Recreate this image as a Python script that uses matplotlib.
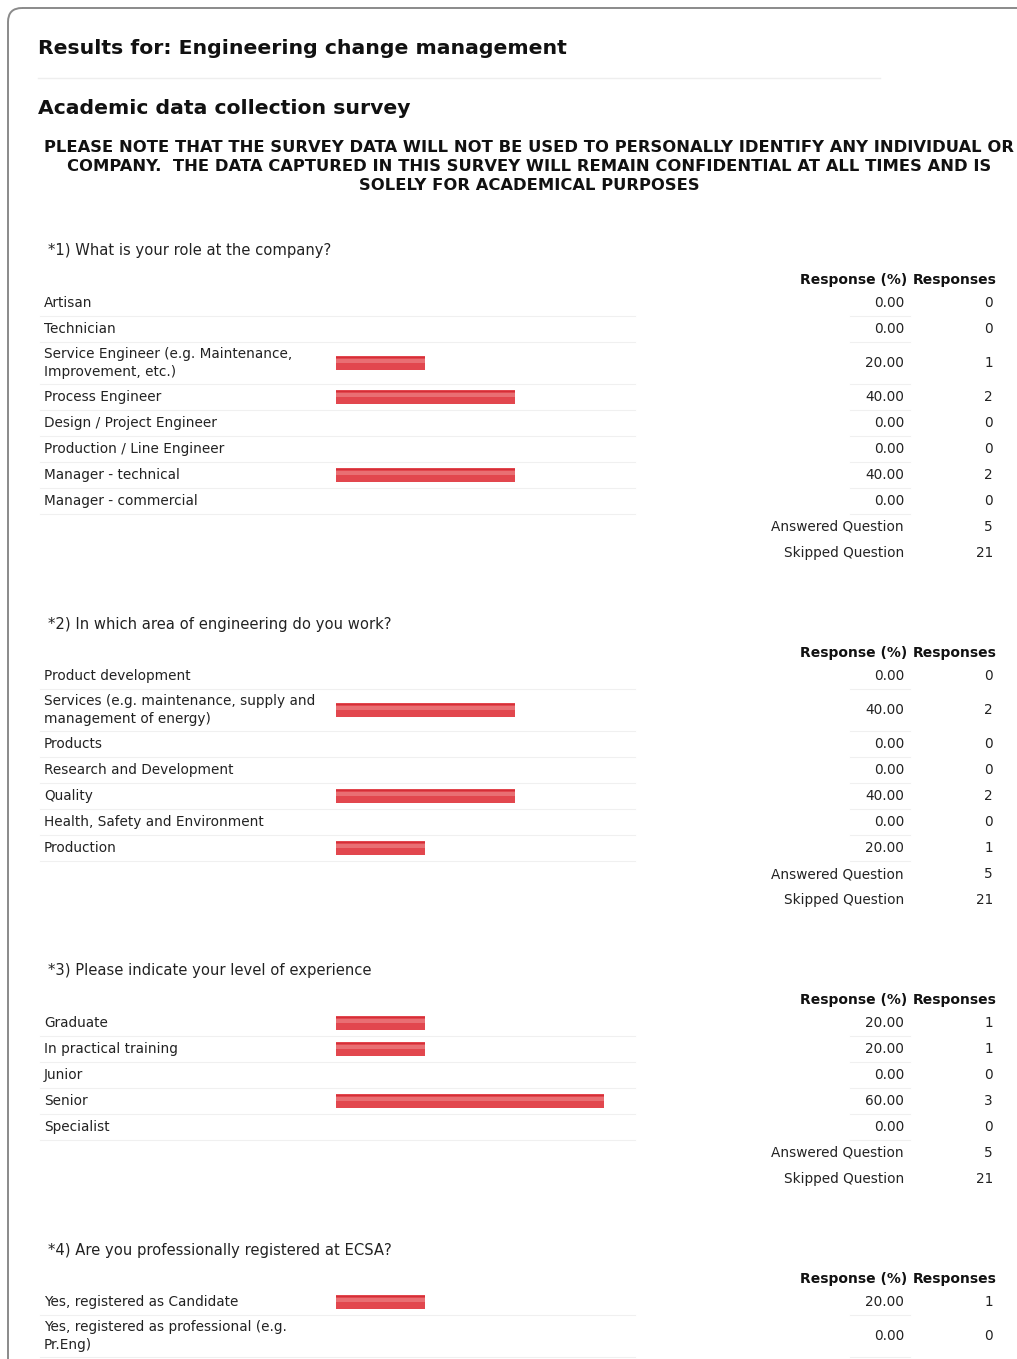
import matplotlib
matplotlib.use("Agg")
import matplotlib.pyplot as plt
from matplotlib.patches import FancyBboxPatch

plt.rcParams['font.family'] = ['DejaVu Sans']

# ---------------- data ----------------
page_title = "Results for: Engineering change management"
survey_title = "Academic data collection survey"
notice_lines = [
    "PLEASE NOTE THAT THE SURVEY DATA WILL NOT BE USED TO PERSONALLY IDENTIFY ANY INDIVIDUAL OR",
    "COMPANY.  THE DATA CAPTURED IN THIS SURVEY WILL REMAIN CONFIDENTIAL AT ALL TIMES AND IS",
    "SOLELY FOR ACADEMICAL PURPOSES",
]

q1_title = "*1) What is your role at the company?"
q1_labels = ["Artisan", "Technician", "Service Engineer (e.g. Maintenance,\nImprovement, etc.)",
             "Process Engineer", "Design / Project Engineer", "Production / Line Engineer",
             "Manager - technical", "Manager - commercial"]
q1_pct = [0.00, 0.00, 20.00, 40.00, 0.00, 0.00, 40.00, 0.00]
q1_cnt = [0, 0, 1, 2, 0, 0, 2, 0]
q1_answered, q1_skipped = 5, 21

q2_title = "*2) In which area of engineering do you work?"
q2_labels = ["Product development", "Services (e.g. maintenance, supply and\nmanagement of energy)",
             "Products", "Research and Development", "Quality",
             "Health, Safety and Environment", "Production"]
q2_pct = [0.00, 40.00, 0.00, 0.00, 40.00, 0.00, 20.00]
q2_cnt = [0, 2, 0, 0, 2, 0, 1]
q2_answered, q2_skipped = 5, 21

q3_title = "*3) Please indicate your level of experience"
q3_labels = ["Graduate", "In practical training", "Junior", "Senior", "Specialist"]
q3_pct = [20.00, 20.00, 0.00, 60.00, 0.00]
q3_cnt = [1, 1, 0, 3, 0]
q3_answered, q3_skipped = 5, 21

q4_title = "*4) Are you professionally registered at ECSA?"
q4_labels = ["Yes, registered as Candidate", "Yes, registered as professional (e.g.\nPr.Eng)"]
q4_pct = [20.00, 0.00]
q4_cnt = [1, 0]
q4_answered, q4_skipped = None, None

questions = [
    (q1_title, q1_labels, q1_pct, q1_cnt, q1_answered, q1_skipped),
    (q2_title, q2_labels, q2_pct, q2_cnt, q2_answered, q2_skipped),
    (q3_title, q3_labels, q3_pct, q3_cnt, q3_answered, q3_skipped),
    (q4_title, q4_labels, q4_pct, q4_cnt, q4_answered, q4_skipped),
]

# ---------------- layout ----------------
W, H = 1017, 1359
fig = plt.figure(figsize=(W / 100, H / 100), dpi=100)
ax = fig.add_axes([0, 0, 1, 1])
ax.set_xlim(0, W)
ax.set_ylim(H, 0)
ax.axis('off')

TXT = '#222222'
LINE = '#f0f0f0'

# frame
frame = FancyBboxPatch((8, 8), 1060, 1400, boxstyle="round,pad=0,rounding_size=14",
                       fill=False, edgecolor='#8a8a8a', linewidth=1.4)
ax.add_patch(frame)
frame.set_clip_on(True)

ax.text(38, 48, page_title, fontsize=14.7, fontweight='bold', color='#111111',
        ha='left', va='center')
ax.plot([38, 880], [78, 78], color='#eeeeee', lw=1)
ax.text(38, 108, survey_title, fontsize=14.7, fontweight='bold', color='#111111',
        ha='left', va='center')
for i, ln in enumerate(notice_lines):
    ax.text(529, 147 + i * 19.5, ln, fontsize=11.8, fontweight='bold', color='#111111',
            ha='center', va='center')

LABEL_X = 44
BAR_X = 336
PX_PER_PCT = 4.47
PCT_X = 904
CNT_X = 993
FS = 9.8
FS_Q = 10.6
FS_H = 10.0

y = 251
for qi, (title, labels, pct, cnt, answered, skipped) in enumerate(questions):
    ax.text(48, y, title, fontsize=FS_Q, color=TXT, ha='left', va='center')
    hy = y + 29
    ax.text(907, hy, "Response (%)", fontsize=FS_H, fontweight='bold', color='#111111',
            ha='right', va='center')
    ax.text(997, hy, "Responses", fontsize=FS_H, fontweight='bold', color='#111111',
            ha='right', va='center')
    ry = hy + 23
    ys = []
    prev_h = None
    for lab in labels:
        h = 42 if "\n" in lab else 26
        if prev_h is not None:
            ry += prev_h / 2 + h / 2
        ys.append(ry)
        prev_h = h
    for lab, p, c, yy, in zip(labels, pct, cnt, ys):
        h = 42 if "\n" in lab else 26
        ax.text(LABEL_X, yy, lab, fontsize=FS, color=TXT, ha='left', va='center',
                linespacing=1.45)
        ax.text(PCT_X, yy, f"{p:.2f}", fontsize=FS, color=TXT, ha='right', va='center')
        ax.text(CNT_X, yy, f"{c}", fontsize=FS, color=TXT, ha='right', va='center')
        ax.plot([40, 635], [yy + h / 2, yy + h / 2], color=LINE, lw=0.8)
        ax.plot([850, 910], [yy + h / 2, yy + h / 2], color=LINE, lw=0.8)
    # bars drawn from data
    widths = [p * PX_PER_PCT for p in pct]
    ax.barh(ys, widths, left=BAR_X, height=14, color='#e2474e', linewidth=0)
    ax.barh([v - 5.5 for v in ys], widths, left=BAR_X, height=1.6, color='#d42f38',
            linewidth=0)
    ax.barh([v - 2.0 for v in ys], widths, left=BAR_X, height=4, color='#ee8a8c',
            linewidth=0, alpha=0.6)
    last = ys[-1]
    if answered is not None:
        ay = last + 26
        sy = ay + 26
        ax.text(PCT_X, ay, "Answered Question", fontsize=FS, color=TXT, ha='right', va='center')
        ax.text(CNT_X, ay, f"{answered}", fontsize=FS, color=TXT, ha='right', va='center')
        ax.text(PCT_X, sy, "Skipped Question", fontsize=FS, color=TXT, ha='right', va='center')
        ax.text(CNT_X, sy, f"{skipped}", fontsize=FS, color=TXT, ha='right', va='center')
        y = sy + 71

fig.savefig("out.png", dpi=100)
